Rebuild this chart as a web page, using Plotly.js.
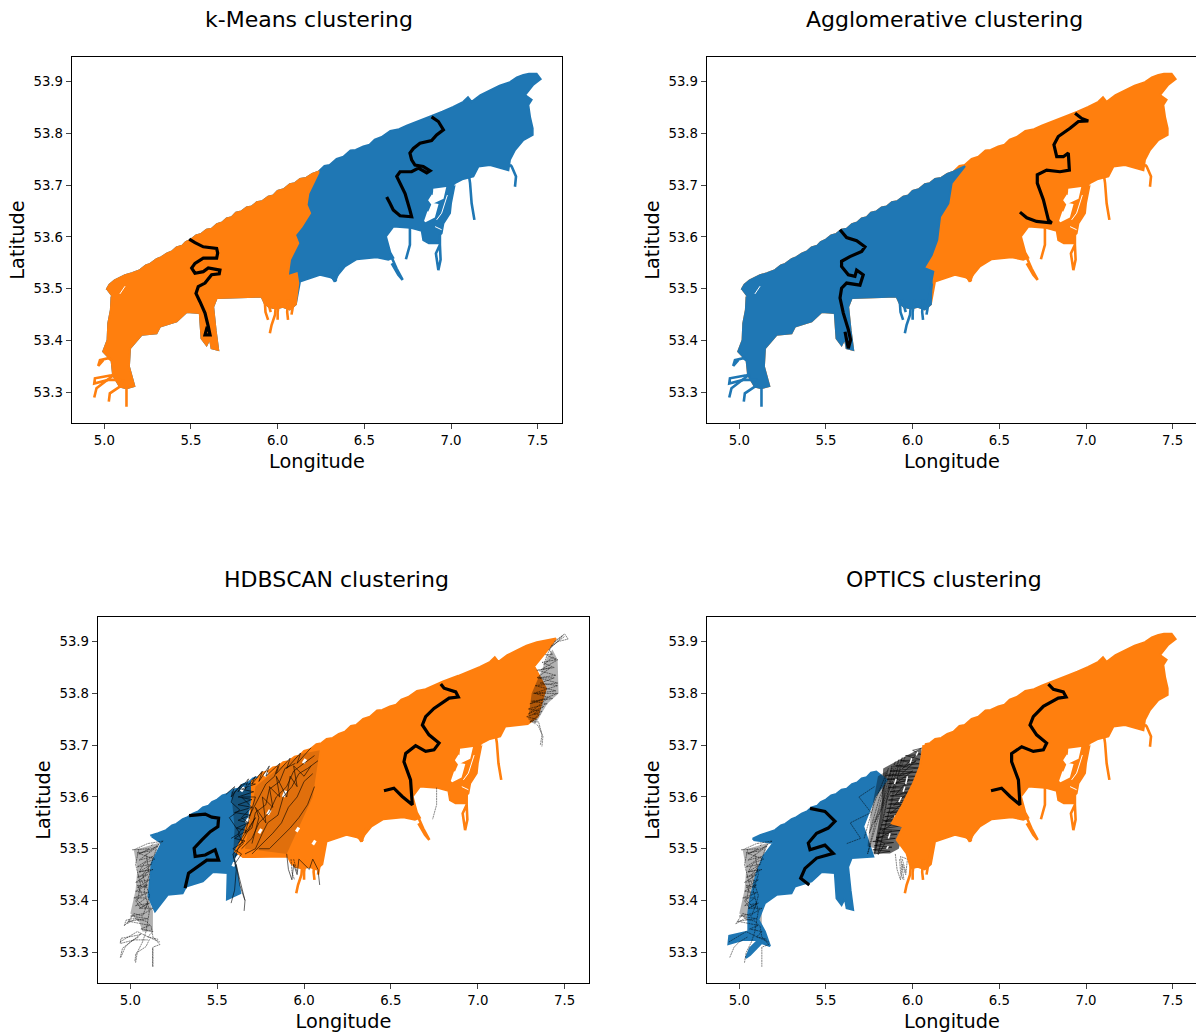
<!DOCTYPE html>
<html><head><meta charset="utf-8">
<script src="https://cdn.plot.ly/plotly-3.0.1.min.js"></script>
<style>html,body{margin:0;padding:0;background:#fff;overflow:hidden}</style>
</head><body><div id="chart"></div>
<script>
const panelTitles = ["k-Means clustering","Agglomerative clustering","HDBSCAN clustering","OPTICS clustering"];
const blue = "#1f77b4", orange = "#ff7f0e";

// Outer outline [lon, lat]: north edge west to east, then the south edge back west
const outline = [[5.013,53.498],[5.03,53.508],[5.06,53.516],[5.081,53.520],[5.12,53.526],[5.16,53.530],[5.206,53.536],[5.24,53.545],[5.265,53.548],[5.302,53.557],[5.33,53.561],[5.36,53.568],[5.39,53.572],[5.417,53.580],[5.45,53.583],[5.47,53.590],[5.50,53.595],[5.53,53.603],[5.56,53.606],[5.59,53.614],[5.62,53.616],[5.65,53.625],[5.68,53.628],[5.706,53.636],[5.735,53.638],[5.76,53.647],[5.79,53.649],[5.821,53.657],[5.85,53.659],[5.88,53.667],[5.91,53.669],[5.946,53.678],[5.975,53.680],[6.00,53.689],[6.035,53.692],[6.071,53.702],[6.10,53.704],[6.13,53.712],[6.165,53.714],[6.20,53.722],[6.235,53.726],[6.27,53.737],[6.30,53.739],[6.34,53.751],[6.379,53.755],[6.42,53.767],[6.45,53.768],[6.494,53.775],[6.53,53.778],[6.56,53.788],[6.60,53.793],[6.65,53.805],[6.70,53.808],[6.744,53.815],[6.80,53.823],[6.888,53.834],[6.95,53.842],[7.013,53.851],[7.071,53.861],[7.098,53.870],[7.119,53.861],[7.17,53.874],[7.225,53.883],[7.28,53.892],[7.340,53.899],[7.38,53.908],[7.417,53.913],[7.45,53.915],[7.494,53.915],[7.517,53.905],
[7.475,53.894],[7.427,53.874],[7.465,53.865],[7.446,53.855],[7.456,53.832],[7.471,53.810],[7.471,53.797],[7.417,53.787],[7.369,53.768],[7.340,53.749],[7.331,53.729],[7.225,53.739],[7.158,53.736],[7.129,53.717],[7.07,53.712],[7.023,53.704],[7.000,53.665],[6.994,53.646],[6.956,53.626],[6.946,53.607],[6.936,53.604],[6.930,53.588],[6.872,53.588],[6.840,53.594],[6.831,53.612],[6.763,53.618],[6.667,53.620],[6.625,53.601],[6.650,53.570],[6.667,53.560],[6.638,53.556],[6.571,53.561],[6.456,53.557],[6.388,53.543],[6.331,53.520],[6.244,53.527],[6.129,53.514],[6.105,53.470],[6.07,53.460],[6.03,53.465],[5.99,53.462],[5.95,53.465],[5.925,53.472],[5.907,53.485],[5.648,53.482],[5.628,53.465],[5.642,53.420],[5.657,53.382],[5.619,53.385],[5.609,53.404],[5.590,53.391],[5.561,53.404],[5.551,53.453],[5.475,53.455],[5.417,53.437],[5.321,53.427],[5.301,53.414],[5.215,53.411],[5.148,53.385],[5.142,53.350],[5.173,53.312],[5.128,53.308],[5.090,53.311],[5.051,53.333],[5.042,53.362],[4.994,53.379],[5.019,53.401],[5.023,53.433],[5.038,53.459],[5.042,53.485]];
const hole1 = [[6.898,53.691],[6.965,53.694],[6.952,53.675],[6.888,53.665],[6.875,53.671],[6.894,53.681]];
const hole2 = [[6.888,53.664],[6.921,53.662],[6.902,53.639],[6.850,53.630],[6.869,53.649]];
const whiteSlits = [[6.979,53.681],[6.946,53.646],[6.917,53.633],null,[6.908,53.620],[6.946,53.614],null,[7.02,53.700],[7.07,53.706],null,[7.04,53.675],[7.01,53.64],null,[5.09,53.49],[5.12,53.505]];
const tailA = [[7.340,53.740],[7.350,53.736],[7.375,53.717],[7.369,53.697]];
const tailE = [[6.763,53.618],[6.763,53.585],[6.740,53.557]];
const tailsEast = [[7.105,53.715],[7.110,53.704],[7.119,53.665],[7.135,53.633],null,[6.936,53.604],[6.936,53.585],[6.913,53.568],[6.927,53.536],[6.940,53.556],[6.936,53.585],null,[6.648,53.568],[6.686,53.539],[6.721,53.517],[6.696,53.527],[6.658,53.549],null,[6.36,53.54],[6.33,53.514],[6.31,53.525],null,[6.28,53.53],[6.34,53.515]];
const fingersMid = [[5.99,53.47],[5.985,53.45],[5.965,53.43],[5.955,53.414],null,[6.01,53.48],[6.00,53.455],[6.00,53.44],null,[6.06,53.48],[6.055,53.455],[6.06,53.44],null,[6.11,53.51],[6.09,53.47],[6.08,53.45]];
const fingersExtra = [[5.925,53.48],[5.93,53.455],[5.945,53.44],null,[5.94,53.48],[5.96,53.455]];
const tailsWest = [[5.128,53.308],[5.128,53.272],null,[5.11,53.325],[5.09,53.311],[5.032,53.298],[5.026,53.282],null,[5.06,53.335],[5.003,53.321],[4.955,53.308],[4.942,53.290],null,[5.06,53.335],[5.042,53.333],[4.946,53.327],[4.942,53.317],[5.023,53.324],[5.10,53.324],null,[5.05,53.36],[5.023,53.366],[4.975,53.362],[4.965,53.351],[4.994,53.362]];

// Cluster dividers
const dividerKMeans = [[6.235,53.724],[6.177,53.684],[6.167,53.662],[6.187,53.646],[6.138,53.620],[6.100,53.604],[6.119,53.588],[6.071,53.556],[6.058,53.524],[6.110,53.530],[6.119,53.511]];
const dividerAgglo = [[6.302,53.737],[6.225,53.704],[6.206,53.665],[6.158,53.639],[6.142,53.594],[6.110,53.565],[6.065,53.540],[6.119,53.533],[6.110,53.517]];
const hdbBlueEast = [[5.777,53.620],[5.690,53.591],[5.662,53.543],[5.671,53.511],[5.594,53.482],[5.613,53.453],[5.633,53.414],[5.556,53.402],[5.560,53.453]];
const hdbBlueWest = [[5.142,53.379],[5.104,53.408],[5.123,53.472],[5.181,53.511],[5.123,53.524]];
const hdbOrangeEast = [[7.450,53.906],[7.402,53.884],[7.325,53.852],[7.392,53.810],[7.344,53.755],[7.287,53.741]];
const hdbOrangeWest = [[5.648,53.484],[5.604,53.495],[5.642,53.517],[5.690,53.562],[5.700,53.594],[5.700,53.633]];
const optBlueEast = [[5.850,53.633],[5.783,53.601],[5.715,53.543],[5.773,53.485]];
const optBlueWest = [[5.148,53.395],[5.110,53.363],[5.148,53.340],[5.177,53.312],[5.129,53.318],[5.062,53.295],[5.038,53.289],[5.062,53.308],[5.110,53.324],[5.023,53.324],[4.937,53.316],[4.942,53.332],[5.052,53.340],[5.052,53.376],[5.062,53.401],[5.100,53.453],[5.138,53.485],[5.196,53.511],[5.081,53.517]];
const optOrangeWest = [[6.062,53.700],[6.042,53.659],[6.004,53.627],[5.937,53.582],[5.879,53.549],[5.946,53.543],[5.908,53.517],[5.965,53.491]];

// Zones where the thin unclustered routes merge into a dark haze
const bandOptics = [[5.83,53.655],[5.92,53.672],[6.05,53.695],[6.06,53.66],[6.02,53.626],[5.965,53.555],[5.92,53.50],[5.869,53.491],[5.773,53.491],[5.82,53.58]];
const bandOpticsBlue = [[5.80,53.64],[5.85,53.65],[5.83,53.57],[5.79,53.50],[5.74,53.505],[5.76,53.57]];
const bandWest = [[5.02,53.497],[5.17,53.512],[5.12,53.47],[5.10,53.41],[5.13,53.38],[5.13,53.34],[5.07,53.34],[5.05,53.36],[5.00,53.375],[5.03,53.42],[5.04,53.46]];
const bandEastHdb = [[7.43,53.885],[7.40,53.87],[7.31,53.80],[7.29,53.75],[7.33,53.74],[7.40,53.78],[7.465,53.80],[7.46,53.865]];
const bandMidHdb = [[5.66,53.50],[5.90,53.49],[6.05,53.60],[6.09,53.69],[5.98,53.683],[5.85,53.655],[5.72,53.62]];
const bandBlueHdb = [[5.58,53.61],[5.70,53.62],[5.66,53.53],[5.62,53.49],[5.59,53.48],[5.60,53.54]];

// Selected routes
const trackKMeansWest = [[5.490,53.596],[5.523,53.589],[5.571,53.581],[5.648,53.578],[5.654,53.569],[5.648,53.559],[5.571,53.559],[5.523,53.549],[5.504,53.540],[5.523,53.530],[5.571,53.533],[5.600,53.540],[5.667,53.536],[5.663,53.529],[5.619,53.527],[5.581,53.511],[5.542,53.504],[5.529,53.491],[5.552,53.475],[5.581,53.453],[5.600,53.427],[5.610,53.411],[5.581,53.411],[5.594,53.427]];
const trackKMeansEast = [[6.888,53.832],[6.927,53.823],[6.956,53.807],[6.917,53.797],[6.888,53.786],[6.821,53.781],[6.783,53.771],[6.763,53.762],[6.773,53.749],[6.792,53.739],[6.840,53.736],[6.879,53.728],[6.860,53.724],[6.812,53.733],[6.773,53.726],[6.706,53.726],[6.687,53.717],[6.706,53.704],[6.735,53.684],[6.763,53.652],[6.773,53.639],[6.706,53.641],[6.667,53.652],[6.648,53.665],[6.629,53.677]];
const trackAggloWest = [[5.581,53.614],[5.619,53.599],[5.677,53.593],[5.725,53.581],[5.706,53.572],[5.638,53.562],[5.590,53.553],[5.590,53.543],[5.629,53.527],[5.667,53.524],[5.677,53.536],[5.715,53.527],[5.696,53.507],[5.619,53.511],[5.590,53.501],[5.581,53.482],[5.600,53.453],[5.629,53.421],[5.642,53.401],[5.629,53.385],[5.619,53.401],[5.610,53.417]];
const trackAggloEast = [[6.937,53.839],[6.975,53.829],[7.013,53.824],[6.956,53.823],[6.908,53.810],[6.840,53.794],[6.815,53.778],[6.831,53.755],[6.869,53.755],[6.898,53.762],[6.904,53.729],[6.850,53.726],[6.773,53.729],[6.719,53.720],[6.719,53.704],[6.754,53.672],[6.783,53.633],[6.802,53.627],[6.715,53.630],[6.658,53.637],[6.619,53.648]];
const trackHdbWest = [[5.338,53.564],[5.431,53.567],[5.469,53.561],[5.508,53.559],[5.504,53.543],[5.460,53.533],[5.412,53.517],[5.367,53.501],[5.373,53.485],[5.431,53.488],[5.488,53.498],[5.508,53.478],[5.440,53.478],[5.383,53.465],[5.335,53.453],[5.315,53.424]];
const trackHdbEast = [[6.787,53.818],[6.806,53.810],[6.873,53.803],[6.888,53.793],[6.835,53.791],[6.748,53.771],[6.700,53.755],[6.681,53.739],[6.719,53.720],[6.777,53.704],[6.748,53.691],[6.700,53.688],[6.642,53.699],[6.585,53.684],[6.575,53.668],[6.613,53.633],[6.623,53.585],[6.565,53.601],[6.517,53.617],[6.460,53.612]];
const trackOptWest = [[5.408,53.578],[5.494,53.572],[5.552,53.553],[5.513,53.540],[5.446,53.530],[5.398,53.511],[5.408,53.498],[5.494,53.507],[5.542,53.491],[5.446,53.482],[5.379,53.462],[5.354,53.443],[5.404,53.430]];
const trackOptEast = [[6.783,53.818],[6.812,53.808],[6.869,53.803],[6.885,53.793],[6.840,53.791],[6.754,53.775],[6.696,53.755],[6.677,53.739],[6.715,53.720],[6.773,53.704],[6.754,53.691],[6.696,53.688],[6.629,53.697],[6.571,53.684],[6.571,53.668],[6.610,53.633],[6.619,53.585],[6.562,53.601],[6.513,53.617],[6.452,53.612]];

// Thin unclustered (noise) routes; null separates strands
const noiseWest = [[5.020,53.498],[5.100,53.510],[5.190,53.515],[5.110,53.495],[5.040,53.492],[5.140,53.480],[5.080,53.472],[5.050,53.455],[5.110,53.460],[5.060,53.440],[5.090,53.425],[5.040,53.430],[5.070,53.410],[5.030,53.400],[5.060,53.385],[5.100,53.395],[5.070,53.370],[5.020,53.375],[4.980,53.355],[5.030,53.365],[5.090,53.360],[5.120,53.350],[5.130,53.330],[5.170,53.315],[5.130,53.310],[5.130,53.272],null,[4.940,53.320],[4.990,53.330],[5.040,53.340],[5.100,53.330],[5.170,53.320],null,[4.945,53.290],[4.970,53.310],[5.000,53.320],[5.050,53.330],null,[5.030,53.280],[5.040,53.300],[5.070,53.320],[5.090,53.340],[5.110,53.380],[5.080,53.420],[5.110,53.450],[5.090,53.490],[5.130,53.510],null,[5.050,53.500],[5.030,53.470],[5.060,53.430],[5.040,53.400],[5.090,53.385],[5.110,53.410],[5.070,53.450],[5.120,53.470],[5.150,53.500],null,[5.01,53.498],[5.11,53.50],[5.05,53.49],[5.16,53.505],[5.05,53.478],[5.13,53.485],[5.04,53.465],[5.12,53.47],[5.05,53.455],[5.13,53.46],[5.04,53.445],[5.10,53.45],[5.03,53.435],[5.11,53.44],[5.04,53.425],[5.10,53.43],[5.03,53.418],[5.10,53.415],[5.02,53.405],[5.09,53.405],[5.03,53.39],[5.11,53.395],[5.05,53.385],[5.13,53.385],[5.08,53.375],[5.00,53.37],[5.10,53.365],[4.99,53.36],[5.11,53.352],[5.06,53.345],[5.13,53.34],[5.10,53.33],[5.16,53.325]];
const noiseMidOptics = [[5.720,53.520],[5.780,53.590],[5.860,53.655],[5.800,53.570],[5.740,53.490],[5.820,53.580],[5.880,53.660],[5.840,53.570],[5.780,53.490],[5.850,53.590],[5.900,53.668],[5.810,53.600],[5.750,53.530],[5.850,53.610],[5.920,53.672],[5.870,53.580],[5.800,53.490],[5.880,53.590],[5.940,53.676],[5.860,53.610],[5.780,53.550],[5.890,53.620],[5.960,53.680],null,[5.620,53.510],[5.700,53.520],[5.640,53.550],[5.760,53.570],[5.690,53.600],[5.780,53.620],null,[5.90,53.49],[5.91,53.46],[5.93,53.44],[5.94,53.47],[5.96,53.45],[5.97,53.48],[5.93,53.485],[5.95,53.44]];
const noiseOpticsDense = [[5.78,53.490],[5.87,53.495],[5.77,53.498],[5.88,53.503],[5.78,53.506],[5.89,53.512],[5.77,53.514],[5.90,53.520],[5.79,53.522],[5.91,53.528],[5.80,53.530],[5.93,53.535],[5.81,53.538],[5.95,53.545],[5.82,53.546],[5.955,53.553],[5.83,53.554],[5.97,53.561],[5.84,53.562],[5.97,53.569],[5.85,53.570],[5.98,53.577],[5.85,53.578],[5.99,53.585],[5.86,53.586],[6.0,53.593],[5.86,53.594],[6.0,53.601],[5.87,53.602],[6.01,53.609],[5.87,53.610],[6.01,53.617],[5.86,53.618],[6.02,53.625],[5.86,53.626],[6.02,53.633],[5.85,53.634],[6.03,53.640],[5.85,53.642],[6.03,53.648],[5.87,53.650],[6.04,53.656],[5.90,53.660],[6.04,53.664],[5.93,53.670],[6.05,53.672],[5.96,53.680],[6.05,53.682],[6.0,53.690],[6.06,53.695],null,[5.80,53.488],[5.84,53.510],[5.79,53.518],[5.88,53.534],[5.82,53.534],[5.92,53.556],[5.84,53.552],[5.94,53.574],[5.87,53.568],[5.96,53.592],[5.89,53.584],[5.98,53.610],[5.90,53.604],[5.98,53.634],[5.90,53.626],[6.0,53.650],[5.92,53.640],[6.02,53.670],[5.94,53.655],[6.03,53.685]];
const noiseMidHdb = [[5.600,53.420],[5.610,53.460],[5.590,53.490],[5.650,53.510],[5.620,53.530],[5.680,53.550],[5.640,53.560],[5.700,53.580],[5.640,53.600],[5.720,53.600],[5.660,53.530],[5.720,53.560],[5.620,53.500],[5.600,53.480],[5.630,53.440],[5.660,53.400],null,[5.60,53.47],[5.64,53.49],[5.59,53.50],[5.66,53.515],[5.60,53.52],[5.67,53.535],[5.61,53.54],[5.68,53.55],[5.62,53.555],[5.69,53.565],[5.60,53.57],[5.70,53.58],[5.62,53.585],[5.70,53.595],[5.62,53.60],[5.71,53.61],[5.64,53.615],[5.72,53.625],[5.65,53.625],[5.60,53.61],[5.58,53.59],[5.63,53.575],[5.57,53.56],[5.63,53.53],[5.58,53.52],null,[5.55,53.605],[5.60,53.62],[5.58,53.60],[5.64,53.625],[5.62,53.61],[5.68,53.635],[5.66,53.615],[5.72,53.64],[5.70,53.625],[5.76,53.65],[5.74,53.63],[5.80,53.66],[5.78,53.64],[5.86,53.665],[5.84,53.645],[5.92,53.675],[5.90,53.655],[5.98,53.685],[5.96,53.665],[6.04,53.695],null,[5.61,53.47],[5.63,53.43],[5.66,53.40],[5.655,53.38],null,[5.60,53.42],[5.58,53.395]];
const noiseHdbDense = [[5.64,53.50],[5.70,53.52],[5.74,53.55],[5.80,53.57],[5.84,53.60],[5.90,53.62],[5.94,53.65],[6.0,53.665],[6.06,53.68],null,[5.66,53.49],[5.72,53.50],[5.76,53.53],[5.79,53.55],[5.85,53.565],[5.88,53.60],[5.93,53.62],[5.97,53.645],[6.02,53.655],[6.08,53.67],null,[5.62,53.51],[5.66,53.53],[5.70,53.54],[5.72,53.57],[5.78,53.585],[5.80,53.615],[5.86,53.63],[5.89,53.655],[5.95,53.665],null,[5.70,53.49],[5.76,53.51],[5.82,53.53],[5.87,53.55],[5.91,53.58],[5.96,53.60],[6.0,53.63],[6.05,53.645],null,[5.74,53.50],[5.80,53.50],[5.86,53.52],[5.92,53.54],[5.97,53.56],[6.02,53.585],[6.06,53.62],null,[5.68,53.56],[5.74,53.60],[5.78,53.625],[5.83,53.64],[5.85,53.66],null,[5.70,53.51],[5.74,53.56],[5.72,53.58],[5.78,53.55],[5.76,53.60],[5.82,53.58],[5.80,53.62],[5.86,53.60],[5.84,53.64],[5.90,53.60],[5.92,53.64],[5.96,53.62],[5.94,53.66],[6.0,53.64],[6.04,53.66],null,[5.90,53.49],[5.91,53.46],[5.93,53.44],[5.94,53.47],[5.96,53.45],[5.97,53.48],[6.03,53.46],[6.05,53.48],[6.08,53.46],[6.09,53.43]];
const speckHdb = [[5.79,53.566],[5.805,53.575],null,[5.955,53.533],[5.97,53.541],null,[5.667,53.55],[5.68,53.558],null,[5.772,53.64],[5.79,53.648],null,[5.995,53.665],[6.01,53.673],null,[5.637,53.611],[5.655,53.619],null,[6.05,53.508],[6.065,53.516],null,[5.59,53.466],[5.60,53.474],null,[5.88,53.60],[5.895,53.612],null,[5.74,53.53],[5.755,53.538]];
const speckOptics = [[5.86,53.52],[5.87,53.53],null,[5.89,53.55],[5.90,53.565],null,[5.92,53.59],[5.935,53.60],null,[5.96,53.625],[5.97,53.64],null,[5.985,53.665],[5.995,53.675],null,[5.895,53.625],[5.905,53.635],null,[5.93,53.55],[5.94,53.56],null,[5.85,53.50],[5.86,53.505],null,[6.02,53.68],[6.03,53.687],null,[5.945,53.61],[5.955,53.62]];
const noiseEastHdb = [[7.440,53.900],[7.500,53.915],[7.520,53.905],[7.460,53.900],[7.490,53.912],[7.430,53.895],[7.400,53.875],[7.380,53.855],[7.430,53.870],[7.460,53.865],[7.360,53.845],[7.420,53.850],[7.340,53.830],[7.440,53.830],[7.360,53.820],[7.460,53.815],[7.320,53.800],[7.420,53.800],[7.460,53.800],[7.300,53.780],[7.400,53.790],[7.290,53.760],[7.380,53.775],[7.320,53.760],[7.360,53.760],[7.300,53.745],[7.350,53.745],[7.370,53.720],[7.360,53.700],null,[7.30,53.745],[7.34,53.75],[7.28,53.755],[7.37,53.765],[7.29,53.77],[7.40,53.78],[7.31,53.785],[7.43,53.79],[7.33,53.80],[7.45,53.805],[7.33,53.815],[7.46,53.82],[7.35,53.83],[7.45,53.835],[7.34,53.845],[7.44,53.85],[7.37,53.86],[7.45,53.865],[7.39,53.875],[7.43,53.875],[7.41,53.885],[7.46,53.90],[7.42,53.89],[7.50,53.91]];

const tip = outline.findIndex(p => p[0] === 7.517);
const north = (a,b) => outline.filter((p,i) => i <= tip && p[0] >= a && p[0] <= b);
const south = (a,b) => outline.filter((p,i) => i > tip && p[0] >= a && p[0] <= b);

const poly = (pts, color, ax) => ({type:"scatter", mode:"lines", x:pts.map(p=>p[0]), y:pts.map(p=>p[1]), fill:"toself", fillcolor:color, line:{color:color,width:2}, hoverinfo:"skip", xaxis:"x"+ax, yaxis:"y"+ax});
const haze = (pts, alpha, ax) => ({type:"scatter", mode:"lines", x:pts.map(p=>p[0]), y:pts.map(p=>p[1]), fill:"toself", fillcolor:"rgba(0,0,0,"+alpha+")", line:{width:0}, hoverinfo:"skip", xaxis:"x"+ax, yaxis:"y"+ax});
const stroke = (pts, color, w, ax, op, dash) => ({type:"scatter", mode:"lines", x:pts.map(p=>p?p[0]:null), y:pts.map(p=>p?p[1]:null), connectgaps:false, opacity:op||1, line:{color:color,width:w,dash:dash||"solid"}, hoverinfo:"skip", xaxis:"x"+ax, yaxis:"y"+ax});
const track = (pts, ax) => stroke(pts, "#000", 3.2, ax);
const noise = (pts, ax) => stroke(pts, "#000", 0.6, ax, .8, "2px,0.6px");
const dense = (pts, ax) => stroke(pts, "#000", 0.7, ax, .85);
const TW = 2.6;

const data = [
  poly(outline, blue, ""),
  stroke(tailA,blue,TW,""), stroke(tailE,blue,TW,""), stroke(tailsEast,blue,TW,""),
  poly([...north(0,6.24),...dividerKMeans,...south(0,6.12)], orange, ""),
  stroke(fingersMid,orange,TW,""), stroke(fingersExtra,orange,TW,""), stroke(tailsWest,orange,TW,""),
  poly(hole1,"#fff",""), poly(hole2,"#fff",""), stroke(whiteSlits,"#fff",1,""),
  track(trackKMeansWest,""), track(trackKMeansEast,""),

  poly(outline, orange, "2"),
  stroke(tailA,orange,TW,"2"), stroke(tailE,orange,TW,"2"), stroke(tailsEast,orange,TW,"2"),
  poly([...north(0,6.24),...dividerAgglo,...south(0,6.12)], blue, "2"),
  stroke(fingersMid,blue,TW,"2"), stroke(fingersExtra,blue,TW,"2"), stroke(tailsWest,blue,TW,"2"),
  poly(hole1,"#fff","2"), poly(hole2,"#fff","2"), stroke(whiteSlits,"#fff",1,"2"),
  track(trackAggloWest,"2"), track(trackAggloEast,"2"),

  haze(bandWest,.3,"3"),
  poly([[5.123,53.524],...north(5.12,5.77),...hdbBlueEast,...south(5.2,5.5),...hdbBlueWest], blue, "3"),
  haze(bandBlueHdb,.3,"3"),
  poly([...north(5.71,7.34),...hdbOrangeEast,...south(5.66,7.29),...hdbOrangeWest], orange, "3"),
  stroke(tailsEast,orange,TW,"3"), stroke(fingersMid,orange,TW,"3"),
  haze(bandMidHdb,.12,"3"), haze(bandEastHdb,.3,"3"),
  poly(hole1,"#fff","3"), poly(hole2,"#fff","3"), stroke(whiteSlits,"#fff",1,"3"),
  stroke(speckHdb,"#fff",3,"3"),
  noise(tailA,"3"), noise(tailE,"3"), noise(fingersExtra,"3"), noise(tailsWest,"3"),
  noise(noiseWest,"3"), dense(noiseMidHdb,"3"), dense(noiseHdbDense,"3"), noise(noiseEastHdb,"3"),
  track(trackHdbWest,"3"), track(trackHdbEast,"3"),

  haze(bandWest,.3,"4"), haze(bandOptics,.6,"4"),
  poly([[5.081,53.517],...north(5.08,5.82),...optBlueEast,...south(5.2,5.66),...optBlueWest], blue, "4"),
  haze(bandOpticsBlue,.35,"4"),
  noise(noiseMidOptics,"4"), dense(noiseOpticsDense,"4"), stroke(speckOptics,"#fff",1.5,"4"),
  poly([...north(6.07,9),...south(5.96,9),...optOrangeWest.slice().reverse()], orange, "4"),
  stroke(tailA,orange,TW,"4"), stroke(tailE,orange,TW,"4"), stroke(tailsEast,orange,TW,"4"), stroke(fingersMid,orange,TW,"4"),
  poly(hole1,"#fff","4"), poly(hole2,"#fff","4"), stroke(whiteSlits,"#fff",1,"4"),
  noise(noiseWest,"4"), noise(fingersExtra,"4"),
  track(trackOptWest,"4"), track(trackOptEast,"4")
];

const W = 1200, H = 1034;
const boxes = [[71.7,562.3,57.3,422.7],[706.7,1197.3,57.3,422.7],[97.7,589.3,617.3,982.7],[706.7,1197.3,617.3,982.7]];
const titleX = [308.5,944,336,944], titleY = [20,20,580,580];
const font = {family:"DejaVu Sans", color:"#000"};
const layout = {width:W, height:H, margin:{l:0,r:0,t:0,b:0}, paper_bgcolor:"#fff", plot_bgcolor:"#fff", showlegend:false, annotations:[]};
boxes.forEach((b,i)=>{
  const s = i ? String(i+1) : "";
  layout["xaxis"+s] = {domain:[b[0]/W,b[1]/W], range:[4.812,7.642], dtick:0.5, tick0:5, tickformat:".1f", ticks:"outside", ticklen:5, tickwidth:1, showgrid:false, zeroline:false, showline:true, mirror:true, linecolor:"#000", linewidth:1, anchor:"y"+s, tickfont:{...font,size:13.3}, title:{text:"Longitude",font:{...font,size:19.3},standoff:7}};
  layout["yaxis"+s] = {domain:[1-b[3]/H,1-b[2]/H], range:[53.2413,53.947], dtick:0.1, tick0:53.3, tickformat:".1f", ticks:"outside", ticklen:5, tickwidth:1, showgrid:false, zeroline:false, showline:true, mirror:true, linecolor:"#000", linewidth:1, anchor:"x"+s, tickfont:{...font,size:13.3}, title:{text:"Latitude",font:{...font,size:19.3},standoff:3}};
  layout.annotations.push({text:panelTitles[i], xref:"paper", yref:"paper", x:titleX[i]/W, y:1-(titleY[i]-0.5)/H, xanchor:"center", yanchor:"middle", showarrow:false, font:{...font,size:22}});
});
Plotly.newPlot("chart", data, layout, {displayModeBar:false, staticPlot:true});
</script></body></html>
